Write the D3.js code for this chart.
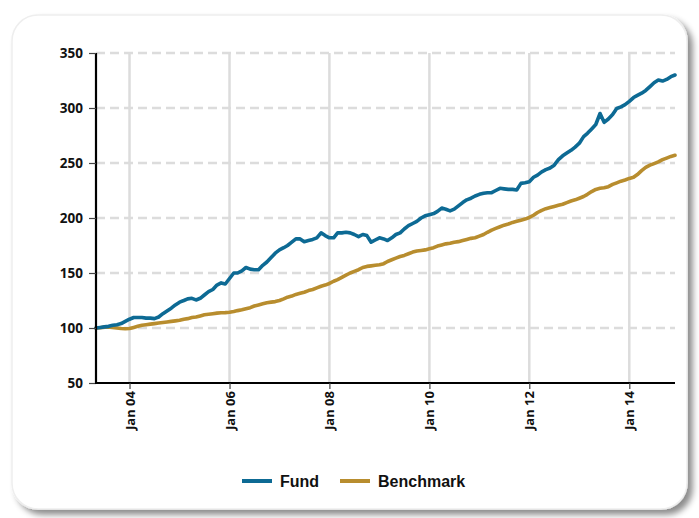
<!DOCTYPE html>
<html><head><meta charset="utf-8">
<script src="https://cdn.jsdelivr.net/npm/d3@7"></script>
<style>
html,body{margin:0;padding:0;background:#fff;}
svg{display:block;}
</style></head>
<body>
<svg id="chart" width="699" height="518"></svg>
<script>
// Monthly values, May 2003 .. Dec 2014
const startMonth = "2003-05";
const fund = [
100,100.5,101,101.5,102.5,103,104,106,
108,109.5,109.5,109.5,109,109,108.5,110,113,115.5,118,121,
123.5,125,126.5,127,125.5,127,130,133,135,139,141,140,
145,150,150,152,155,153.5,153,153,157,160,164,168,
171,173,175,178,181,181,178.5,179.5,180.5,182,186.5,184,
182,182,186.5,186.5,187,186.5,185,183,185,184,178,180,
182,181,179.5,182,185,186.5,190,193,195,197,200,202,
203,204,206,209,208,206.5,208,211,214,216.5,218,220,
221.5,222.5,223,223,225,227,226.5,226,226,225.5,231.5,232,
233,237,239,242,244,245.5,248,253,256.5,259,261.5,264.5,
268,274,277,281,285,295,287,290,294,299.5,301,303,
306,309.5,311.5,313.5,316,319.5,323,325.5,324.5,326,328.5,330
];
const benchmark = [
100,100.3,100.8,101,100.5,100,99.5,99.3,
99.5,100.5,101.5,102.5,103,103.5,104,104.5,105,105.5,106,106.5,
107,108,108.5,109.5,110,111,112,112.5,113,113.5,113.8,114,
114.3,115,115.8,116.5,117.5,118.5,120,121,122,123,123.5,124,
125,126.5,128,129,130.5,131.5,132.5,134,135,136.5,138,139,
140.5,142.5,144,146,148,150,151.5,153,155,156,156.5,157,
157.5,158.5,160.5,162,163.5,165,166,167.5,169,170,170.5,171,
172,173,174.5,175.5,176.5,177,178,178.5,179.5,180.5,181.5,182,
183.5,185,187,189,190.5,192,193.5,194.5,196,197,198,199,
200.5,202.5,205,207,208.5,209.5,210.5,211.5,212.5,214,215.5,216.5,
218,219.5,221.5,224,226,227,227.5,228.5,230.5,232,233.5,234.5,
236,237,239.5,243,246,248,249.5,251,253,254.5,256,257
];
const yTicks = [50,100,150,200,250,300,350];
const xTickLabels = ["Jan 04","Jan 06","Jan 08","Jan 10","Jan 12","Jan 14"];
const seriesNames = ["Fund","Benchmark"];
const seriesColors = ["#0d6a94","#b88d2e"];

const parseM = d3.timeParse("%Y-%m");
const parseTick = d3.timeParse("Jan %y");
const start = parseM(startMonth);
const months = fund.map((_, i) => d3.timeMonth.offset(start, i));
const xTicks = xTickLabels.map(s => parseTick(s));

const svg = d3.select("#chart");
const defs = svg.append("defs");
const f = defs.append("filter").attr("id","shadow").attr("x","-5%").attr("y","-5%").attr("width","115%").attr("height","115%");
f.append("feDropShadow").attr("dx",5).attr("dy",5).attr("stdDeviation",3).attr("flood-color","#000").attr("flood-opacity",0.45);

// card
svg.append("rect").attr("x",12).attr("y",15).attr("width",675).attr("height",494)
  .attr("rx",26).attr("ry",26).attr("fill","#fff").attr("stroke","#eeeeee").attr("stroke-width",1.5)
  .attr("filter","url(#shadow)");

const x = d3.scaleTime().domain([months[0], months[months.length-1]]).range([96, 675]);
const y = d3.scaleLinear().domain([50, 350]).range([383, 53]);

// grid
const g = svg.append("g");
g.selectAll("line.vg").data(xTicks).join("line")
  .attr("x1", d => x(d)).attr("x2", d => x(d)).attr("y1", y(350)).attr("y2", y(50))
  .attr("stroke","#dcdcdc").attr("stroke-width",2.5);
g.selectAll("line.hg").data(yTicks.filter(v => v > 50)).join("line")
  .attr("x1", 96).attr("x2", 675).attr("y1", d => y(d)).attr("y2", d => y(d))
  .attr("stroke","#dcdcdc").attr("stroke-width",2.5).attr("stroke-dasharray","9,5");

// lines
const line = d3.line().x((d,i) => x(months[i])).y(d => y(d)).curve(d3.curveLinear);
[benchmark, fund].forEach((s, k) => {
  const idx = k === 0 ? 1 : 0;
  svg.append("path").datum(s).attr("d", line).attr("fill","none")
    .attr("stroke", seriesColors[idx]).attr("stroke-width",3.6)
    .attr("stroke-linejoin","round").attr("stroke-linecap","round");
});

// axes
const yAxis = svg.append("g").attr("transform","translate(96,0)")
  .call(d3.axisLeft(y).tickValues(yTicks).tickSize(7).tickPadding(6).tickFormat(d3.format("d")));
yAxis.select(".domain").attr("stroke","#000").attr("stroke-width",2.2).attr("d","M0,"+y(350)+"V"+(y(50)+1));
yAxis.selectAll(".tick line").attr("stroke","#444").attr("stroke-width",1.2);
yAxis.selectAll("text").attr("font-family","'Open Sans', sans-serif").attr("font-weight",700)
  .attr("font-size",13.5).attr("fill","#111");

const xAxis = svg.append("g").attr("transform","translate(0,383)")
  .call(d3.axisBottom(x).tickValues(xTicks).tickSize(6).tickFormat(d3.timeFormat("Jan %y")));
xAxis.select(".domain").attr("stroke","#000").attr("stroke-width",2.2).attr("d","M95,0H675");
xAxis.selectAll(".tick line").attr("stroke","#444").attr("stroke-width",1.2);
xAxis.selectAll("text").attr("font-family","'Open Sans', sans-serif").attr("font-weight",700)
  .attr("font-size",13).attr("fill","#111")
  .attr("transform","rotate(-90)").attr("text-anchor","end")
  .attr("x",-8).attr("y",0).attr("dy","0.35em");

// legend
const legend = svg.append("g").attr("transform","translate(242,481)");
const lx = [0, 98];
seriesNames.forEach((n, i) => {
  const lg = legend.append("g").attr("transform","translate("+lx[i]+",0)");
  lg.append("line").attr("x1",0).attr("x2",30).attr("y1",0).attr("y2",0)
    .attr("stroke",seriesColors[i]).attr("stroke-width",4);
  lg.append("text").attr("x",38).attr("y",0).attr("dy","0.35em")
    .attr("font-family","'Liberation Sans', Arial, sans-serif").attr("font-weight",700)
    .attr("font-size",16).attr("fill","#111").text(n);
});
</script>
</body></html>
